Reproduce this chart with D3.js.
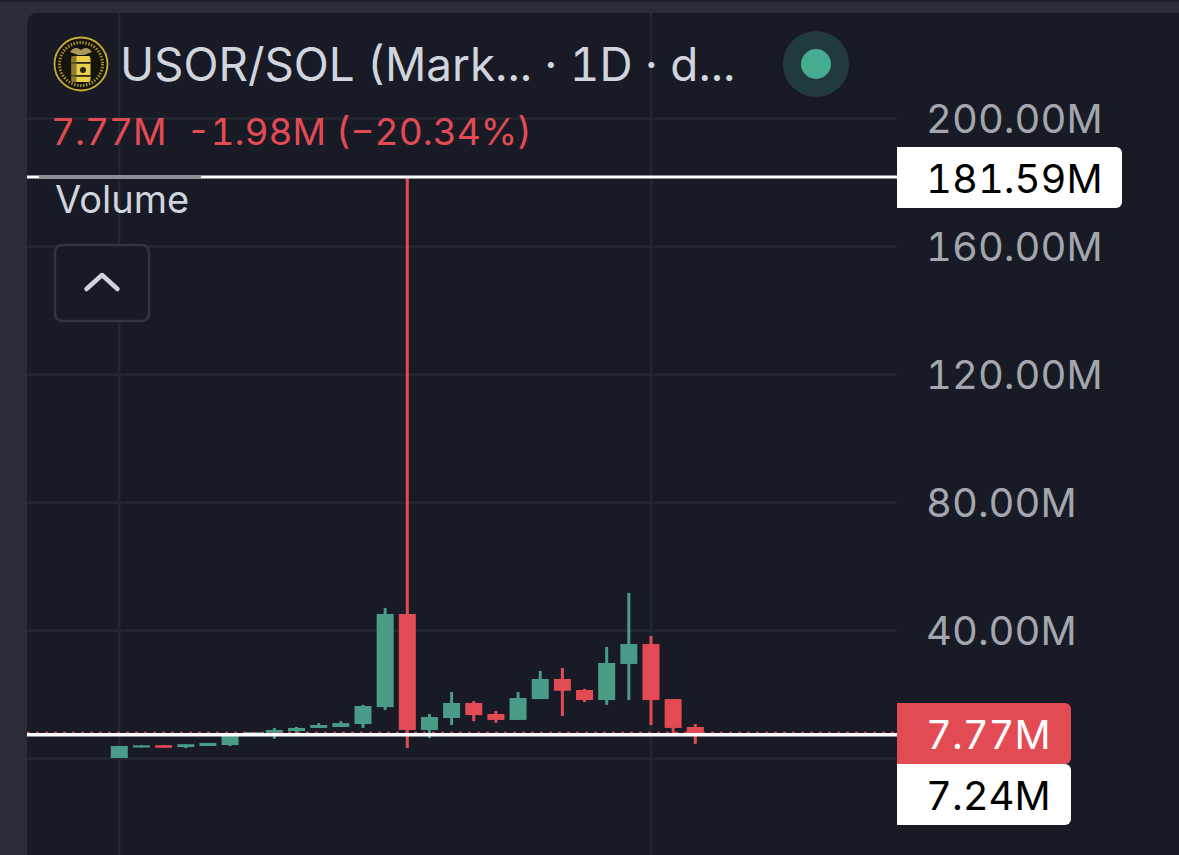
<!DOCTYPE html>
<html>
<head>
<meta charset="utf-8">
<script src="https://cdn.jsdelivr.net/npm/d3@7"></script>
<style>
  html, body { margin: 0; padding: 0; background: #2a2d39; overflow: hidden; }
  svg { display: block; font-family: Inter, "Noto Sans", sans-serif; font-variant-numeric: tabular-nums; }
  .axis-text text { fill: #a4a6ae; font-size: 40px; font-family: Inter, "Noto Sans", sans-serif; }
  .axis-text path, .grid path { display: none; }
  .grid line { stroke: #242731; stroke-width: 2.5; }
</style>
</head>
<body>
<div id="chart"></div>
<script>
// candles (millions)
var days  = d3.range(27)
var opens  = [0, 3.3, 4.0, 3.4, 3.75, 4.05, 7.2, 7.5, 8.4, 9.4, 9.7, 10.6, 15.9, 45, 8.75, 12.5, 17.2, 13.75, 11.9, 18.4, 24.7, 21.25, 18.1, 29.4, 35.6, 18.4, 9.7]
var closes = [3.75, 3.95, 3.2, 4.3, 4.7, 7.2, 8.1, 8.75, 9.4, 10.3, 10.9, 16.25, 45, 8.75, 12.8, 17.2, 13.4, 11.9, 18.75, 24.7, 21, 18.1, 29.7, 35.6, 18.1, 9.4, 7.77]
var highs  = [3.75, 3.95, 4.0, 4.3, 4.7, 7.5, 8.1, 9.4, 9.7, 10.9, 11.5, 16.6, 46.9, 181.59, 13.75, 20.6, 17.8, 14.7, 20.6, 27.2, 28.1, 21.6, 34.7, 51.6, 38.1, 18.4, 10.6]
var lows   = [0, 3.3, 3.2, 3.1, 3.75, 3.75, 7.2, 6.0, 6.9, 9.4, 9.7, 9.4, 15, 3.1, 6.25, 10.3, 11.5, 11, 11.9, 18.4, 13.1, 17.5, 16.6, 18.1, 10.3, 7.5, 4.4]

var yTicks = [40, 80, 120, 160, 200]
var gridValues = [0, 40, 80, 120, 160, 200]
var gridDays = [0, 24]

var crosshairValue = 181.59
var lastValue = 7.77
var priceValue = 7.24

var titleText = "USOR/SOL (Mark... · 1D · d..."
var legendText = "7.77M  -1.98M (−20.34%)"

var colors = { bg: "#181b26", outer: "#2a2d39", up: "#4a9c86", down: "#e34b54" }

var W = 1179, H = 855
var svg = d3.select("#chart").append("svg").attr("width", W).attr("height", H)

var x = d3.scaleLinear().domain([0, 26]).range([119.3, 695.3])
var y = d3.scaleLinear().domain([0, 200]).range([758, 118])
var plotRight = 897, plotLeft = 27

// page frame
svg.append("rect").attr("width", W).attr("height", 2).attr("fill", "#1e212b")
svg.append("path")
    .attr("d", "M27 855V23a10 10 0 0 1 10-10H1179V855Z")
    .attr("fill", colors.bg)

// grid
svg.append("g").attr("class", "grid")
    .attr("transform", "translate(" + plotRight + ",0)")
    .call(d3.axisLeft(y).tickValues(gridValues).tickSize(plotRight - plotLeft).tickFormat(""))

svg.selectAll(".vgrid").data(gridDays).enter().append("line")
    .attr("x1", d => x(d)).attr("x2", d => x(d))
    .attr("y1", 13).attr("y2", H)
    .attr("stroke", "#242731").attr("stroke-width", 2.5)

// candles
var candles = svg.append("g").selectAll("g").data(days).enter().append("g")
    .attr("fill", d => closes[d] >= opens[d] ? colors.up : colors.down)

candles.append("rect")
    .attr("x", d => x(d) - 1.5)
    .attr("width", 3)
    .attr("y", d => y(highs[d]))
    .attr("height", d => y(lows[d]) - y(highs[d]))

candles.append("rect")
    .attr("x", d => x(d) - 8.5)
    .attr("width", 17)
    .attr("y", d => y(Math.max(opens[d], closes[d])))
    .attr("height", d => Math.abs(y(opens[d]) - y(closes[d])))

// price lines, dotted one goes under the white one
function hline(v, color, w, dash) {
    svg.append("line")
        .attr("x1", plotLeft).attr("x2", plotRight)
        .attr("y1", y(v)).attr("y2", y(v))
        .attr("stroke", color).attr("stroke-width", w)
        .attr("stroke-dasharray", dash || null)
}
hline(lastValue, colors.down, 3, "3 6")
hline(priceValue, "#ffffff", 3.5)
hline(crosshairValue, "#ffffff", 3)

svg.append("line")
    .attr("x1", 39).attr("x2", 201)
    .attr("y1", y(crosshairValue)).attr("y2", y(crosshairValue))
    .attr("stroke", "#8b8c94").attr("stroke-width", 3)

// right axis labels
svg.append("g").attr("class", "axis-text")
    .attr("transform", "translate(926,1.5)")
    .call(d3.axisRight(y).tickValues(yTicks).tickSize(0).tickPadding(0)
        .tickFormat(d => d3.format(".2f")(d) + "M"))

function tag(v, rectY, rectW, fill, textFill) {
    svg.append("path")
        .attr("d", "M897 " + rectY + "H" + (897 + rectW - 6) + "a6 6 0 0 1 6 6V" + (rectY + 55) +
            "a6 6 0 0 1 -6 6H897Z")
        .attr("fill", fill)
    svg.append("text")
        .attr("x", 926).attr("y", rectY + 45.5)
        .attr("font-size", 40).attr("fill", textFill)
        .text(d3.format(".2f")(v) + "M")
}
tag(crosshairValue, 147, 225, "#ffffff", "#000000")
tag(priceValue, 764, 174, "#ffffff", "#000000")
tag(lastValue, 703, 174, colors.down, "#ffffff")

// legend
svg.append("text").attr("x", 120).attr("y", 81)
    .attr("font-size", 45.8).attr("fill", "#d1d4dc").attr("xml:space", "preserve")
    .text(titleText)
svg.append("text").attr("x", 51).attr("y", 145)
    .attr("font-size", 37.1).attr("fill", colors.down).attr("xml:space", "preserve")
    .text(legendText)
svg.append("text").attr("x", 55).attr("y", 213)
    .attr("font-size", 38).attr("fill", "#d1d4dc")
    .text("Volume")

// collapse button
svg.append("rect").attr("x", 55).attr("y", 245).attr("width", 94).attr("height", 76).attr("rx", 7)
    .attr("fill", colors.bg).attr("stroke", "#32353f").attr("stroke-width", 2.5)
svg.append("path").attr("d", "M86.5 289L102 275L117.5 289")
    .attr("fill", "none").attr("stroke", "#d1d4dc").attr("stroke-width", 4.5)
    .attr("stroke-linecap", "round").attr("stroke-linejoin", "round")

// status dot
svg.append("circle").attr("cx", 816).attr("cy", 64).attr("r", 33).attr("fill", "#203a3e")
svg.append("circle").attr("cx", 816).attr("cy", 64).attr("r", 15).attr("fill", "#46ab8f")

// token logo
var logo = svg.append("g").attr("transform", "translate(81,64)")
logo.append("circle").attr("r", 26.5).attr("fill", "#14130c").attr("stroke", "#c9ae36").attr("stroke-width", 1.8)
logo.append("circle").attr("r", 21.5).attr("fill", "none").attr("stroke", "#a8902e").attr("stroke-width", 3).attr("stroke-dasharray", "1.5 1.5")
logo.append("path").attr("d", "M-11 -12Q-6 -19 0 -14Q6 -19 11 -12L3 -9H-3Z").attr("fill", "#a8985a")
logo.append("rect").attr("x", -9.5).attr("y", -8).attr("width", 19).attr("height", 26).attr("rx", 2).attr("fill", "#e8cf4c")
logo.append("rect").attr("x", -9.5).attr("y", -2).attr("width", 19).attr("height", 1.8).attr("fill", "#2a2610")
logo.append("rect").attr("x", -9.5).attr("y", 11).attr("width", 19).attr("height", 1.8).attr("fill", "#2a2610")
logo.append("rect").attr("x", -9.5).attr("y", -8).attr("width", 5).attr("height", 26).attr("fill", "#6f6020").attr("opacity", 0.75)
logo.append("circle").attr("cx", 2).attr("cy", 6).attr("r", 3).attr("fill", "#2a2610")
</script>
</body>
</html>
